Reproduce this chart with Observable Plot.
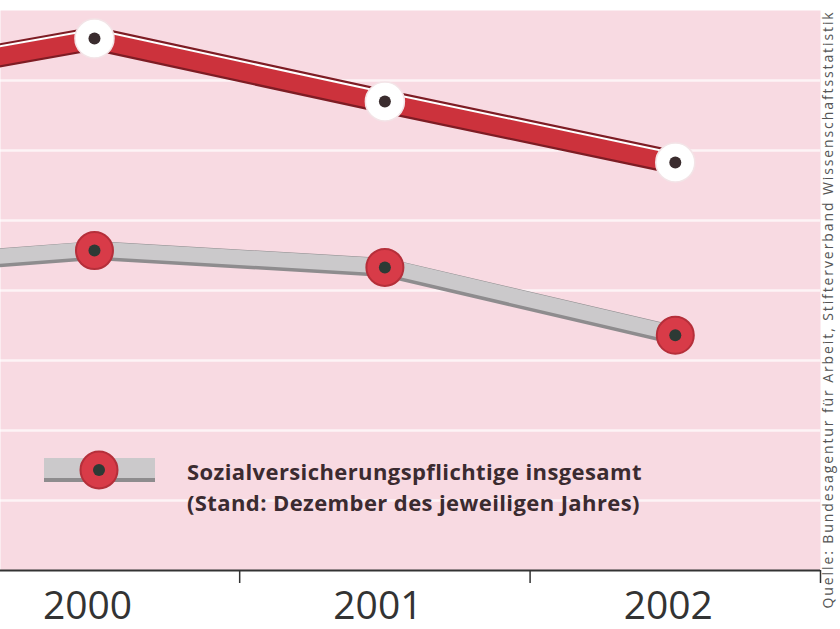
<!DOCTYPE html>
<html>
<head>
<meta charset="utf-8">
<script src="https://cdn.jsdelivr.net/npm/d3@7"></script>
<script src="https://cdn.jsdelivr.net/npm/@observablehq/plot@0.6"></script>
<style>
  html, body { margin: 0; padding: 0; background: #fff; }
  #wrap { position: relative; width: 840px; height: 629px; overflow: hidden; }
  #legend { position: absolute; left: 0; top: 0; width: 840px; height: 629px; pointer-events: none; }
  #legend .txt { position: absolute; left: 187px; top: 456px; font-family: "Open Sans", sans-serif; font-weight: 700; font-size: 22px; line-height: 31px; letter-spacing: 0.4px; color: #3b2b30; white-space: nowrap; }
</style>
</head>
<body>
<div id="wrap"></div>
<script>
// ---- data (y in grid units) ----
const years = [1999, 2000, 2001, 2002];
const upperSeries = [6.86, 7.6, 6.7, 5.83];          // red ribbon
const sozialSeries = [4.26, 4.57, 4.33, 3.36];       // grey ribbon (Sozialversicherungspflichtige insgesamt)
const yearLabels = [2000, 2001, 2002];
const bandEdges = [2000.5, 2001.5, 2002.5];
const gridLines = [1, 2, 3, 4, 5, 6, 7];
const legendLabel = ["Sozialversicherungspflichtige insgesamt", "(Stand: Dezember des jeweiligen Jahres)"];
const sourceText = "Quelle: Bundesagentur für Arbeit, Stifterverband Wissenschaftsstatistik";

const upper = years.map((year, i) => ({year, value: upperSeries[i]}));
const sozial = years.map((year, i) => ({year, value: sozialSeries[i]}));

const chart = Plot.plot({
  width: 840,
  height: 629,
  marginTop: 10,
  marginBottom: 59,
  marginLeft: 0,
  marginRight: 20,
  style: {background: "white"},
  x: {domain: [1999.6764, 2002.5], axis: null},
  y: {domain: [0, 8], axis: null},
  marks: [
    Plot.frame({fill: "#f8dae2", stroke: null}),
    Plot.gridY(gridLines, {stroke: "#fff", strokeOpacity: 0.7, strokeWidth: 2.5}),
    // grey ribbon
    Plot.line(sozial, {x: "year", y: "value", stroke: "#8e8c8e", strokeWidth: 19, clip: true}),
    Plot.line(sozial, {x: "year", y: "value", stroke: "#cbc9cb", strokeWidth: 15, dy: -1.5, clip: true}),
    // red ribbon
    Plot.line(upper, {x: "year", y: "value", stroke: "#7e1c24", strokeWidth: 24, clip: true}),
    Plot.line(upper, {x: "year", y: "value", stroke: "#cc323c", strokeWidth: 18, dy: 0.8, clip: true}),
    Plot.line(upper, {x: "year", y: "value", stroke: "#fff", strokeWidth: 2, dy: -9, clip: true}),
    // markers on red ribbon
    Plot.dot(upper, {x: "year", y: "value", r: 19.5, fill: "#fff", stroke: "#f3e4e7", strokeWidth: 1.5, clip: true}),
    Plot.dot(upper, {x: "year", y: "value", r: 6, fill: "#3a2c2e", clip: true}),
    // markers on grey ribbon
    Plot.dot(sozial, {x: "year", y: "value", r: 18.5, fill: "#d83b48", stroke: "#b52f3a", strokeWidth: 2, clip: true}),
    Plot.dot(sozial, {x: "year", y: "value", r: 6, fill: "#2d3a35", clip: true}),
    // x axis
    Plot.ruleY([0], {stroke: "#333", strokeWidth: 2}),
    Plot.axisX({ticks: bandEdges, tickSize: 13, tickFormat: () => "", label: null, stroke: "#333", strokeWidth: 1.5}),
    Plot.axisX({ticks: yearLabels, tickSize: 0, tickPadding: 21, tickFormat: d => String(d), label: null, fontSize: 39, fill: "#333", dx: -7, fontFamily: "Open Sans"}),
    // source text
    Plot.text([sourceText], {frameAnchor: "bottom-right", rotate: -90, textAnchor: "start", dx: 12, dy: 38, fontSize: 14, fill: "#555", fontFamily: "Open Sans"})
  ]
});
d3.select(chart).selectAll("text").filter(function() { return this.textContent === sourceText; }).style("letter-spacing", "1.9px");

const wrap = document.getElementById("wrap");
wrap.appendChild(chart);

// legend overlay
const legend = document.createElement("div");
legend.id = "legend";
legend.innerHTML = `
<svg width="840" height="629" style="position:absolute;left:0;top:0">
  <rect x="44" y="458" width="111" height="24" fill="#8e8c8e"/>
  <rect x="44" y="458" width="111" height="20" fill="#cbc9cb"/>
  <circle cx="99" cy="470" r="18.5" fill="#d83b48" stroke="#b52f3a" stroke-width="2"/>
  <circle cx="99" cy="470" r="6" fill="#2d3a35"/>
</svg>
<div class="txt">${legendLabel[0]}<br>${legendLabel[1]}</div>`;
wrap.appendChild(legend);
</script>
</body>
</html>
